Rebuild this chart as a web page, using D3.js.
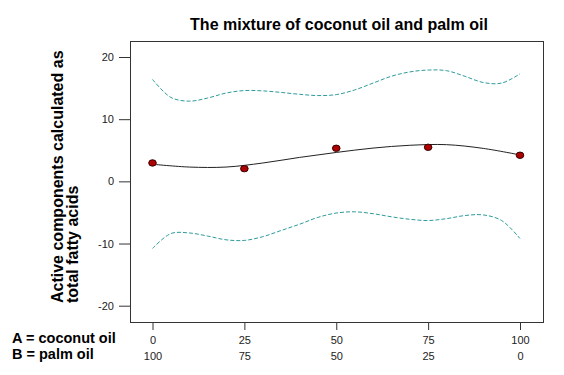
<!DOCTYPE html>
<html>
<head>
<meta charset="utf-8">
<script src="https://cdn.jsdelivr.net/npm/d3@7"></script>
<style>
  body { margin: 0; background: #fff; }
  svg { display: block; font-family: "Liberation Sans", Arial, sans-serif; }
</style>
</head>
<body>
<div id="chart"></div>
<script>
// data
const coconutTicks = [0, 25, 50, 75, 100];
const palmTicks = [100, 75, 50, 25, 0];
const yTicks = [-20, -10, 0, 10, 20];

const designA = [0, 25, 50, 75, 100];
const observed = [2.96, 2.04, 5.32, 5.48, 4.2];

const fitA = [0, 10, 20, 30, 40, 50, 60, 70, 80, 90, 100];
const fitValues = [2.75, 2.3, 2.3, 2.95, 3.85, 4.65, 5.35, 5.8, 5.9, 5.3, 4.25];

const bandA = [0, 5, 10, 15, 20, 25, 30, 35, 40, 45, 50, 55, 60, 65, 70, 75, 80, 85, 90, 95, 100];
const upperBand = [16.4, 13.5, 12.9, 13.4, 14.2, 14.6, 14.55, 14.3, 14.0, 13.8, 13.95, 14.7, 15.8, 16.9, 17.6, 17.9, 17.8, 16.9, 15.9, 15.8, 17.3];
const lowerBand = [-10.8, -8.4, -8.3, -8.8, -9.4, -9.5, -8.9, -7.9, -6.9, -5.8, -5.1, -4.9, -5.2, -5.7, -6.1, -6.3, -6.0, -5.5, -5.4, -6.3, -9.2];

const W = 564, H = 375;
const frame = { left: 130, right: 544, top: 41, bottom: 323 };

const svg = d3.select("#chart").append("svg")
  .attr("width", W)
  .attr("height", H);

const x = d3.scaleLinear().domain([0, 100]).range([152.5, 520]);
const y = d3.scaleLinear().domain([20, -20]).range([57, 305.7]);

// title
svg.append("text")
  .attr("x", 339)
  .attr("y", 30)
  .attr("text-anchor", "middle")
  .style("font-size", "16px")
  .style("font-weight", "bold")
  .text("The mixture of coconut oil and palm oil");

// y axis title, two lines
const yTitle = svg.append("text")
  .attr("transform", "translate(63,303) rotate(-90)")
  .style("font-size", "16px")
  .style("font-weight", "bold");
yTitle.append("tspan").attr("x", 0).attr("y", 0).text("Active components calculated as");
yTitle.append("tspan").attr("x", 0).attr("y", 15).text("total fatty acids");

// frame
svg.append("rect")
  .attr("x", frame.left + 0.5)
  .attr("y", frame.top + 0.5)
  .attr("width", frame.right - frame.left - 1)
  .attr("height", frame.bottom - frame.top - 1)
  .attr("fill", "none")
  .attr("stroke", "#333");

// y axis
const yAxis = svg.append("g")
  .attr("transform", `translate(${frame.left},0)`)
  .call(d3.axisLeft(y).tickValues(yTicks).tickSize(11).tickPadding(5)
    .tickFormat(d => String(d)));
yAxis.select(".domain").remove();
yAxis.selectAll("line").attr("stroke", "#333");
yAxis.selectAll("text")
  .style("font-family", "Liberation Sans, Arial, sans-serif")
  .style("font-size", "11px")
  .attr("fill", "#222");

// x axis, coconut oil row
const xAxis = svg.append("g")
  .attr("transform", `translate(0,${frame.bottom})`)
  .call(d3.axisBottom(x).tickValues(coconutTicks).tickSize(7).tickPadding(6));
xAxis.select(".domain").remove();
xAxis.selectAll("line").attr("stroke", "#333");
xAxis.selectAll("text")
  .style("font-family", "Liberation Sans, Arial, sans-serif")
  .style("font-size", "11px")
  .attr("fill", "#222");

// palm oil row
const xAxis2 = svg.append("g")
  .attr("transform", `translate(0,${frame.bottom + 16})`)
  .call(d3.axisBottom(x).tickValues(coconutTicks).tickSize(0).tickPadding(13)
    .tickFormat((d, i) => palmTicks[i]));
xAxis2.select(".domain").remove();
xAxis2.selectAll("text")
  .style("font-family", "Liberation Sans, Arial, sans-serif")
  .style("font-size", "11px")
  .attr("fill", "#222");

// component legend
svg.append("text")
  .attr("x", 12).attr("y", 343)
  .style("font-size", "14.5px").style("font-weight", "bold")
  .text("A = coconut oil");
svg.append("text")
  .attr("x", 12).attr("y", 359)
  .style("font-size", "14.5px").style("font-weight", "bold")
  .text("B = palm oil");

const line = d3.line()
  .x(d => x(d[0]))
  .y(d => y(d[1]))
  .curve(d3.curveCatmullRom);

// confidence band lines
svg.append("path")
  .datum(d3.zip(bandA, upperBand))
  .attr("d", line)
  .attr("fill", "none")
  .attr("stroke", "#2f9b9b")
  .attr("stroke-width", 1)
  .attr("stroke-dasharray", "4,2");

svg.append("path")
  .datum(d3.zip(bandA, lowerBand))
  .attr("d", line)
  .attr("fill", "none")
  .attr("stroke", "#2f9b9b")
  .attr("stroke-width", 1)
  .attr("stroke-dasharray", "4,2");

// fitted curve
svg.append("path")
  .datum(d3.zip(fitA, fitValues))
  .attr("d", line)
  .attr("fill", "none")
  .attr("stroke", "#222")
  .attr("stroke-width", 1);

// design points
svg.selectAll("ellipse.pt")
  .data(d3.zip(designA, observed))
  .join("ellipse")
  .attr("class", "pt")
  .attr("cx", d => x(d[0]))
  .attr("cy", d => y(d[1]))
  .attr("rx", 3.8)
  .attr("ry", 3.2)
  .attr("fill", "#b00000")
  .attr("stroke", "#300")
  .attr("stroke-width", 1);
</script>
</body>
</html>
